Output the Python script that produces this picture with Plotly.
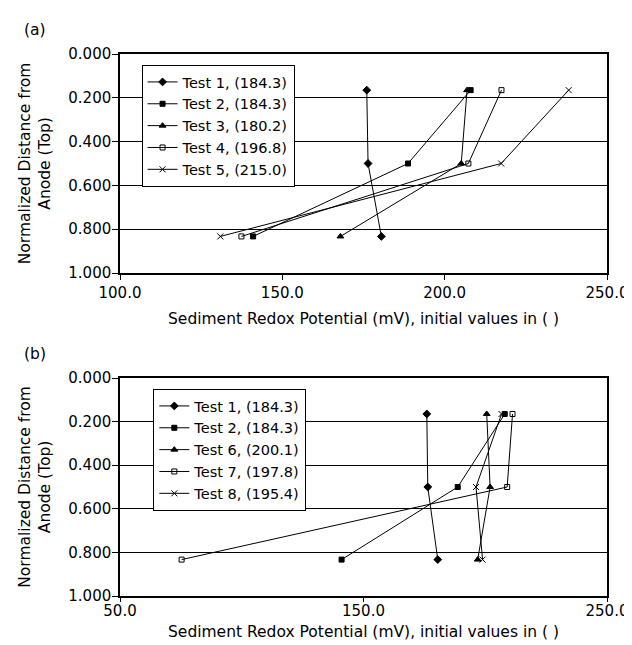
import plotly.graph_objects as go

# ---- data ----
depth = [0.165, 0.5, 0.833]

names_a = ["Test 1, (184.3)", "Test 2, (184.3)", "Test 3, (180.2)", "Test 4, (196.8)", "Test 5, (215.0)"]
test1 = [176.0, 176.4, 180.5]
test2 = [208.0, 188.7, 141.0]
test3 = [206.9, 205.1, 167.9]
test4 = [217.5, 207.3, 137.4]
test5 = [238.2, 217.4, 130.9]

names_b = ["Test 1, (184.3)", "Test 2, (184.3)", "Test 6, (200.1)", "Test 7, (197.8)", "Test 8, (195.4)"]
test6 = [200.6, 202.0, 196.9]
test7 = [211.2, 209.0, 75.3]
test8 = [206.7, 196.2, 198.9]

xticks_a = [100, 150, 200, 250]
xticks_b = [50, 150, 250]
yticks = [0.0, 0.2, 0.4, 0.6, 0.8, 1.0]

symbols = ["diamond", "square", "triangle-up", "square-open", "x-thin-open"]
sizes = [6, 5, 6, 5, 6]

FONT = "DejaVu Sans, Liberation Sans, Arial, sans-serif"

fig = go.Figure()

series_a = [test1, test2, test3, test4, test5]
series_b = [test1, test2, test6, test7, test8]

for i, (nm, vals) in enumerate(zip(names_a, series_a)):
    fig.add_trace(go.Scatter(
        x=vals, y=depth, name=nm, mode="lines+markers",
        line=dict(color="black", width=1),
        marker=dict(symbol=symbols[i], size=sizes[i], color="black",
                    line=dict(color="black", width=1)),
        xaxis="x", yaxis="y", legend="legend"))

for i, (nm, vals) in enumerate(zip(names_b, series_b)):
    fig.add_trace(go.Scatter(
        x=vals, y=depth, name=nm, mode="lines+markers",
        line=dict(color="black", width=1),
        marker=dict(symbol=symbols[i], size=sizes[i], color="black",
                    line=dict(color="black", width=1)),
        xaxis="x2", yaxis="y2", legend="legend2"))

L, R, T, B = 112, 23, 46, 57
W, H = 632, 645
ph = H - T - B
pw = W - L - R

def py(pix):
    return (H - B - pix) / ph

def px(pix):
    return (pix - L) / pw

axis_common = dict(showline=True, linecolor="black", linewidth=1.5, mirror=True,
                   tickcolor="black", tickwidth=1, ticks="outside",
                   tickfont=dict(family=FONT, size=15, color="black"), zeroline=False)

fig.update_layout(
    width=W, height=H,
    margin=dict(l=L, r=R, t=T, b=B),
    paper_bgcolor="white", plot_bgcolor="white",
    font=dict(family=FONT, size=15, color="black"),
    showlegend=True,
    xaxis=dict(domain=[0, 1], anchor="y", range=[100, 250], tickvals=xticks_a,
               tickformat=".1f", showgrid=False, ticklen=5, **axis_common),
    yaxis=dict(domain=[py(265), 1], anchor="x", range=[1, 0], tickvals=yticks,
               tickformat=".3f", showgrid=True, gridcolor="black", gridwidth=1,
               ticklen=6, ticklabelstandoff=-2, **axis_common),
    xaxis2=dict(domain=[0, 1], anchor="y2", range=[50, 250], tickvals=xticks_b,
                tickformat=".1f", showgrid=False, ticklen=4, ticklabelstandoff=-4,
                **axis_common),
    yaxis2=dict(domain=[0, py(370)], anchor="x2", range=[1, 0], tickvals=yticks,
                tickformat=".3f", showgrid=True, gridcolor="black", gridwidth=1,
                ticklen=6, ticklabelstandoff=-2, **axis_common),
    legend=dict(x=px(134), y=py(57), xanchor="left", yanchor="top",
                bgcolor="white", bordercolor="black", borderwidth=1,
                font=dict(family=FONT, size=14.5, color="black"),
                itemwidth=30, tracegroupgap=0),
    legend2=dict(x=px(146), y=py(381), xanchor="left", yanchor="top",
                 bgcolor="white", bordercolor="black", borderwidth=1,
                 font=dict(family=FONT, size=14.5, color="black"),
                 itemwidth=30, tracegroupgap=0),
)

xtitle = "Sediment Redox Potential (mV), initial values in ( )"
ytitle = "Normalized Distance from<br>Anode (Top)"
ann = [
    dict(text="(a)", x=px(25), y=py(22)),
    dict(text="(b)", x=px(25), y=py(346)),
    dict(text=xtitle, x=0.5, y=py(311)),
    dict(text=xtitle, x=0.5, y=py(624)),
    dict(text=ytitle, x=px(25), y=py(155.5), textangle=-90),
    dict(text=ytitle, x=px(25), y=py(479), textangle=-90),
]
for a in ann:
    fig.add_annotation(xref="paper", yref="paper", showarrow=False,
                       xanchor="center", yanchor="middle",
                       font=dict(family=FONT, size=15.5, color="black"), **a)

fig.write_html("out.html")
